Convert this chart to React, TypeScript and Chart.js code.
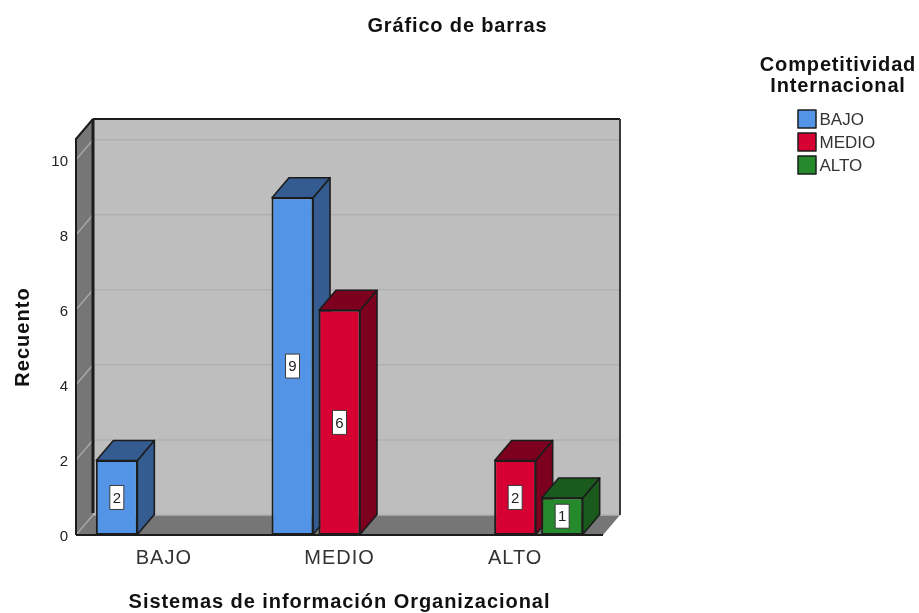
import React, { useEffect, useRef } from "react";
import { Chart, registerables } from "chart.js";

Chart.register(...registerables);

const categories = ["BAJO", "MEDIO", "ALTO"];
const bajoValues = [2, 9, null];
const medioValues = [null, 6, 2];
const altoValues = [null, null, 1];
const seriesNames = ["BAJO", "MEDIO", "ALTO"];
const yTickValues = [0, 2, 4, 6, 8, 10];
const chartTitle = "Gráfico de barras";
const legendTitle = ["Competitividad", "Internacional"];
const xTitle = "Sistemas de información Organizacional";
const yTitle = "Recuento";
const yAxisMax = 10.55;

const frontColors = ["#5394e6", "#d60032", "#248a2c"];
const darkColors = ["#345c90", "#7d001f", "#1a5a1c"];
const DX = 17;
const DY = 20;
const FONT = '"Liberation Sans", Arial, sans-serif';
const LINE = "#1c1c1c";

const poly = (ctx: CanvasRenderingContext2D, pts: number[][], fill?: string, stroke?: string, lw = 2) => {
  ctx.beginPath();
  pts.forEach((p, i) => (i ? ctx.lineTo(p[0], p[1]) : ctx.moveTo(p[0], p[1])));
  ctx.closePath();
  if (fill) {
    ctx.fillStyle = fill;
    ctx.fill();
  }
  if (stroke) {
    ctx.strokeStyle = stroke;
    ctx.lineWidth = lw;
    ctx.lineJoin = "round";
    ctx.stroke();
  }
};

const seg = (ctx: CanvasRenderingContext2D, a: number[], b: number[], color: string, lw = 2) => {
  ctx.beginPath();
  ctx.moveTo(a[0], a[1]);
  ctx.lineTo(b[0], b[1]);
  ctx.strokeStyle = color;
  ctx.lineWidth = lw;
  ctx.stroke();
};

const withSpacing = (ctx: any, spacing: string, scale: any, method: string) => {
  const original = scale[method].bind(scale);
  scale[method] = (...args: any[]) => {
    ctx.letterSpacing = spacing;
    original(...args);
    ctx.letterSpacing = "0px";
  };
};

const hasValue = (ds: any, i: number) => ds.data[i] !== null && ds.data[i] !== undefined;

const scene3d = {
  id: "scene3d",
  afterInit(chart: any) {
    chart.$spacingDone = false;
  },
  beforeDraw(chart: any) {
    if (chart.$spacingDone) return;
    chart.$spacingDone = true;
    withSpacing(chart.ctx, "1px", chart.scales.x, "drawLabels");
    withSpacing(chart.ctx, "0.95px", chart.scales.x, "drawTitle");
    withSpacing(chart.ctx, "1.05px", chart.scales.y, "drawTitle");
  },
  beforeDatasetsDraw(chart: any) {
    const { ctx, chartArea: a, scales } = chart;
    const y = scales.y;
    ctx.save();
    // back wall
    poly(ctx, [[a.left + DX, a.top - DY], [a.right + DX, a.top - DY], [a.right + DX, a.bottom - DY], [a.left + DX, a.bottom - DY]], "#bebebe");
    // left wall
    poly(ctx, [[a.left, a.top], [a.left + DX, a.top - DY], [a.left + DX, a.bottom - DY], [a.left, a.bottom]], "#767676");
    // floor
    poly(ctx, [[a.left + DX, a.bottom - DY], [a.right + DX, a.bottom - DY], [a.right, a.bottom], [a.left, a.bottom]], "#767676");
    // gridlines
    y.ticks.forEach((t: any) => {
      const py = y.getPixelForValue(t.value);
      seg(ctx, [a.left, py], [a.left + DX, py - DY], "#a6a6a6", 1.5);
      seg(ctx, [a.left + DX, py - DY], [a.right + DX, py - DY], "#b0b0b0", 1.5);
    });
    // frame
    seg(ctx, [a.left + DX, a.top - DY], [a.right + DX, a.top - DY], LINE);
    seg(ctx, [a.right + DX, a.top - DY], [a.right + DX, a.bottom - DY], "#3a3a3a");
    seg(ctx, [a.left + DX, a.top - DY], [a.left + DX, a.bottom - DY - 2], LINE, 3);
    seg(ctx, [a.left, a.top], [a.left + DX, a.top - DY], LINE);
    seg(ctx, [a.left, a.top - 1], [a.left, a.bottom], LINE);
    seg(ctx, [a.left, a.bottom], [a.right, a.bottom], LINE);

    // bars, in depth order
    chart.data.datasets.forEach((ds: any, di: number) => {
      const meta = chart.getDatasetMeta(di);
      meta.data.forEach((el: any, i: number) => {
        if (!hasValue(ds, i)) return;
        const { x, y: top, base, width } = el.getProps(["x", "y", "base", "width"], true);
        const l = x - width / 2 + 0.5;
        const r = x + width / 2 - 0.5;
        const t = top + 0.5;
        const b = base - 0.5;
        poly(ctx, [[r, t], [r + DX, t - DY], [r + DX, b - DY], [r, b]], darkColors[di], LINE, 1.6);
        poly(ctx, [[l, t], [l + DX, t - DY], [r + DX, t - DY], [r, t]], darkColors[di], LINE, 1.6);
        el.draw(ctx);
      });
    });

    // value labels
    chart.data.datasets.forEach((ds: any, di: number) => {
      const meta = chart.getDatasetMeta(di);
      meta.data.forEach((el: any, i: number) => {
        if (!hasValue(ds, i)) return;
        const { x, y: top, base } = el.getProps(["x", "y", "base"], true);
        const cy = (top + base) / 2;
        ctx.fillStyle = "#ffffff";
        ctx.fillRect(x - 7, cy - 12, 14, 24);
        ctx.strokeStyle = "#3a3a3a";
        ctx.lineWidth = 1;
        ctx.strokeRect(x - 7, cy - 12, 14, 24);
        ctx.fillStyle = "#222222";
        ctx.font = `15px ${FONT}`;
        ctx.textAlign = "center";
        ctx.textBaseline = "middle";
        ctx.fillText(String(ds.data[i]), x, cy + 1);
      });
    });

    // chart title
    ctx.fillStyle = "#111111";
    ctx.textAlign = "center";
    ctx.textBaseline = "middle";
    ctx.font = `bold 20px ${FONT}`;
    ctx.letterSpacing = "0.85px";
    ctx.fillText(chartTitle, 457.5, 26);

    // legend
    legendTitle.forEach((s, i) => ctx.fillText(s, 838, 65 + i * 21));
    ctx.letterSpacing = "0px";
    ctx.font = `17px ${FONT}`;
    ctx.textAlign = "left";
    seriesNames.forEach((s, i) => {
      const ly = 110 + i * 23;
      ctx.fillStyle = frontColors[i];
      ctx.fillRect(798, ly, 18, 18);
      ctx.strokeStyle = LINE;
      ctx.lineWidth = 1.5;
      ctx.strokeRect(798, ly, 18, 18);
      ctx.fillStyle = "#333333";
      ctx.fillText(s, 819.5, ly + 10);
    });
    ctx.restore();
  },
  beforeDatasetDraw() {
    return false;
  },
};

export default function App() {
  const ref = useRef<HTMLCanvasElement>(null);
  useEffect(() => {
    const series = [bajoValues, medioValues, altoValues];
    const chart = new Chart(ref.current!, {
      type: "bar",
      data: {
        labels: categories,
        datasets: series.map((data, i) => ({
          label: seriesNames[i],
          data,
          backgroundColor: frontColors[i],
          borderColor: LINE,
          borderWidth: 2,
          borderSkipped: false,
          categoryPercentage: 0.8025,
          barPercentage: 0.894,
        })),
      } as any,
      options: {
        responsive: false,
        animation: false,
        layout: { padding: { left: 0, right: 316, top: 139, bottom: 0 } },
        plugins: { legend: { display: false }, title: { display: false }, tooltip: { enabled: false } },
        scales: {
          x: {
            grid: { display: false, drawTicks: false },
            border: { display: false },
            ticks: { color: "#333333", font: { family: FONT, size: 20 }, padding: 11 },
            title: { display: true, text: xTitle, color: "#111111", font: { family: FONT, size: 20, weight: "bold" }, padding: { top: 0, bottom: -1 } },
            afterFit(scale: any) {
              scale.height = 78;
            },
          },
          y: {
            min: 0,
            max: yAxisMax,
            afterBuildTicks(scale: any) {
              scale.ticks = yTickValues.map((value) => ({ value }));
            },
            grid: { display: false, drawTicks: false },
            border: { display: false },
            ticks: { color: "#222222", font: { family: FONT, size: 15 }, padding: 8, labelOffset: 2 },
            title: { display: true, text: yTitle, color: "#111111", font: { family: FONT, size: 20, weight: "bold" }, padding: { top: 11, bottom: 0 } },
            afterFit(scale: any) {
              scale.width = 76;
            },
          },
        },
      },
      plugins: [scene3d],
    } as any);
    return () => chart.destroy();
  }, []);
  return <canvas ref={ref} width={919} height={613} style={{ position: "fixed", left: 0, top: 0 }} />;
}
